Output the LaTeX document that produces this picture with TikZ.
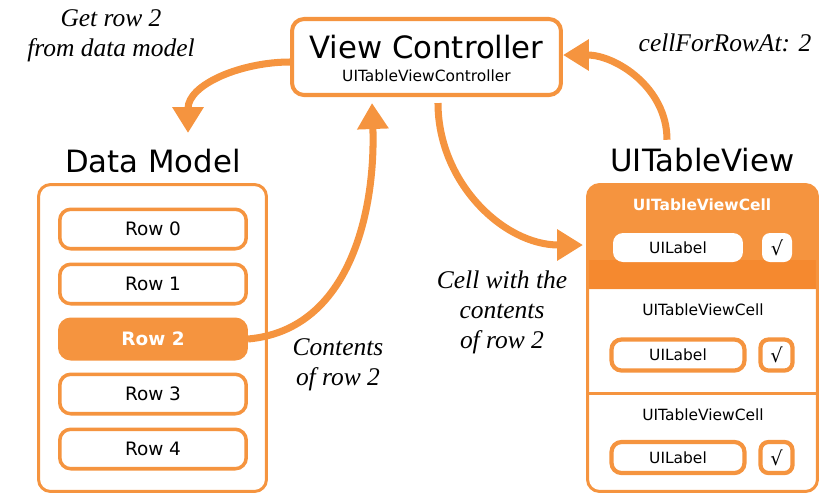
\documentclass[tikz,border=0pt]{standalone}
\usepackage{fontspec}
\setmainfont{DejaVu Sans}
\newfontfamily\noteFont{Liberation Serif}
\usepackage{tikz}
\usetikzlibrary{shapes.geometric, arrows, arrows.meta}
\usetikzlibrary{positioning}
\definecolor{appleOrange}{HTML}{F5943F}
\definecolor{darkOrange}{HTML}{F5892F}
\tikzstyle{titleText} = [inner sep=0pt, font=\fontsize{17.5}{21}\selectfont]
\tikzstyle{smallText} = [inner sep=0pt, font=\fontsize{8.8}{10.5}\selectfont]
\tikzstyle{noteText} = [inner sep=0pt, align=center, font=\noteFont\itshape\fontsize{14.5}{17}\selectfont]
\tikzstyle{groupBox} = [rectangle, rounded corners=0.24cm, draw=appleOrange, line width=1.7pt]
\tikzstyle{rowNode} = [
                rectangle,
                rounded corners=0.22cm,
                minimum width=3.73cm,
                minimum height=0.79cm,
                draw=appleOrange,
                line width=2pt,
                fill=white,
                font=\fontsize{10.5}{12}\selectfont
            ]
\tikzstyle{rowSelected} = [rowNode, fill=appleOrange, text=white, font=\bfseries\fontsize{10.5}{12}\selectfont]
\tikzstyle{labelNode} = [rectangle, rounded corners=0.2cm, minimum width=2.66cm, minimum height=0.62cm, draw=appleOrange, line width=2.4pt, fill=white, font=\fontsize{8.8}{10.5}\selectfont]
\tikzstyle{checkNode} = [labelNode, rounded corners=0.16cm, minimum width=0.64cm, inner sep=0pt, font=\fontsize{11}{12}\selectfont]
\tikzstyle{labelPlain} = [labelNode, draw=none, minimum width=2.6cm, minimum height=0.58cm]
\tikzstyle{checkPlain} = [checkNode, draw=none, minimum width=0.6cm, minimum height=0.58cm]
\tikzstyle{flowArrow} = [draw=appleOrange, line width=4pt, -{Triangle[width=0.6cm, length=0.52cm]}]

\begin{document}
\begin{tikzpicture}[x=0.02cm, y=-0.02cm]
    \useasboundingbox (0,0) rectangle (829,495);

    % view controller
    \node (vc) [groupBox, line width=2.3pt, minimum width=5.38cm, minimum height=1.52cm, fill=white] at (426.5,57) {};
    \node (vcTitle) [titleText] at (426.5,47) {View Controller};
    \node (vcSub) [smallText] at (426.5,76) {UITableViewController};

    % data model
    \node (dataTitle) [titleText] at (153,161) {Data Model};
    \node (dataModel) [groupBox, minimum width=4.56cm, minimum height=6.14cm] at (152.5,338) {};
    \node (row0) [rowNode] at (153,229) {Row 0};
    \node (row1) [rowNode] at (153,284) {Row 1};
    \node (row2) [rowSelected] at (153,339) {Row 2};
    \node (row3) [rowNode] at (153,394) {Row 3};
    \node (row4) [rowNode] at (153,449) {Row 4};

    % table view
    \node (tableTitle) [titleText] at (702.5,160) {UITableView};
    \fill [appleOrange] (587.5,289) [rounded corners=0.24cm] -- (587.5,184.5) -- (817.5,184.5) [sharp corners] -- (817.5,289) -- cycle;
    \fill [darkOrange] (587.5,260) rectangle (817.5,289);
    \node (tableView) [groupBox, minimum width=4.6cm, minimum height=6.14cm] at (702.5,338) {};
    \draw [appleOrange, line width=1.7pt] (587.5,393) -- (817.5,393);

    \node (cell0) [smallText, text=white, font=\bfseries\fontsize{8.8}{10.5}\selectfont] at (702,205) {UITableViewCell};
    \node (label0) [labelPlain] at (678,247.5) {UILabel};
    \node (check0) [checkPlain] at (777,247.5) {√};
    \node (cell1) [smallText] at (703,310) {UITableViewCell};
    \node (label1) [labelNode] at (678,355) {UILabel};
    \node (check1) [checkNode] at (776.5,355) {√};
    \node (cell2) [smallText] at (703,415) {UITableViewCell};
    \node (label2) [labelNode] at (678,457.5) {UILabel};
    \node (check2) [checkNode] at (776.5,457.5) {√};

    % notes
    \node (getNote) [noteText] at (111,36) {Get row 2\\from data model};
    \node (cellForNote) [noteText] at (725,43) {cellForRowAt: 2};
    \node (contentsNote) [noteText] at (338,365) {Contents\\of row 2};
    \node (cellNote) [noteText] at (502,312) {Cell with the\\contents\\of row 2};

    % arrows
    \coordinate (modelIn) at (188,133);
    \coordinate (cellIn) at (583,245);
    \draw [flowArrow] ([yshift=-0.1cm]vc.west) to [out=180, in=90] (modelIn);
    \draw [flowArrow] (row2.east) to [out=5, in=-88] ([xshift=-1.09cm, yshift=-0.12cm]vc.south);
    \draw [flowArrow] ([xshift=0.23cm, yshift=-0.12cm]vc.south) to [out=-90, in=180] (cellIn);
    \draw [flowArrow] ([xshift=-0.71cm, yshift=0.16cm]tableTitle.north) to [out=90, in=0] ([yshift=0.04cm]vc.east);
\end{tikzpicture}
\end{document}
